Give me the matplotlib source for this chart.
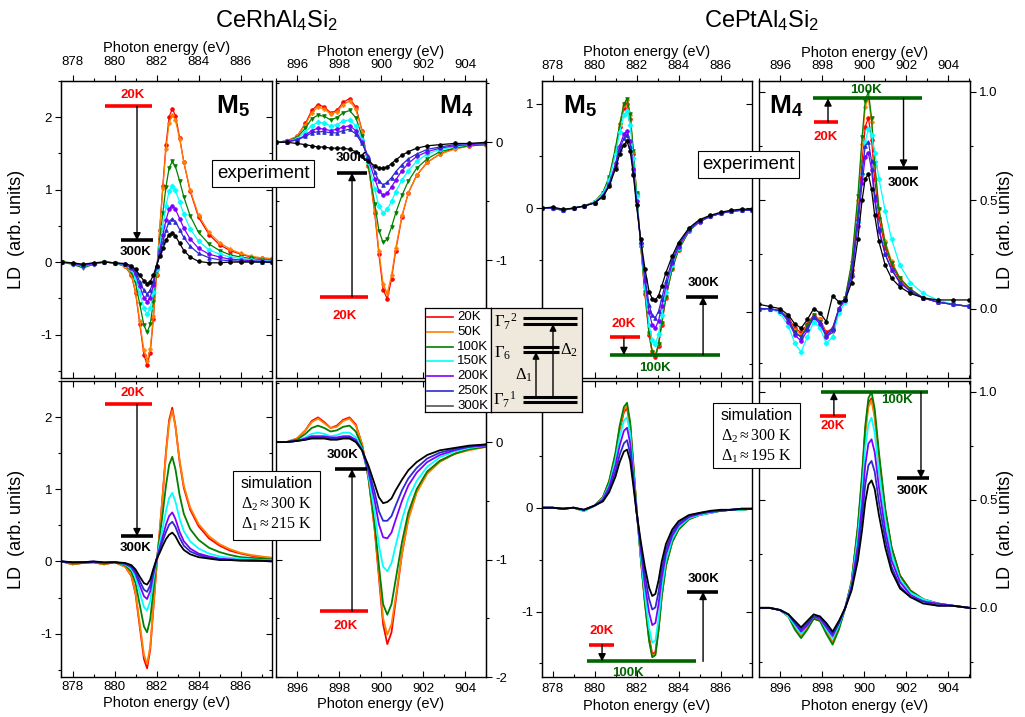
import matplotlib
matplotlib.use('Agg')
import matplotlib.pyplot as plt
from matplotlib.ticker import MultipleLocator, FormatStrFormatter
from matplotlib.patches import Rectangle

plt.rcParams['font.family'] = ['Liberation Sans', 'DejaVu Sans']
plt.rcParams['mathtext.fontset'] = 'custom'
plt.rcParams['mathtext.rm'] = 'Liberation Serif'
plt.rcParams['mathtext.it'] = 'Liberation Serif:italic'
plt.rcParams['mathtext.bf'] = 'Liberation Sans:bold'
plt.rcParams['mathtext.sf'] = 'Liberation Sans'
plt.rcParams['axes.unicode_minus'] = False

# ---------------- data ----------------
TEMPS = ['20K', '50K', '100K', '150K', '200K', '250K', '300K']
COLORS = ['#FF0000', '#FF8000', '#008000', '#00FFFF', '#8000FF', '#2B2BD0', '#000000']
MARKERS = ['o', 'P', 'v', 'D', 'o', '^', 'o']

# CeRhAl4Si2 M5 energy grid
x_rh_m5 = [877.5, 878.0, 878.5, 879.0, 879.5, 880.0, 880.5, 880.8, 881.0, 881.2,
           881.4, 881.55, 881.7, 881.85, 882.0, 882.15, 882.3, 882.45, 882.6, 882.75,
           882.9, 883.1, 883.3, 883.6, 884.0, 884.5, 885.0, 885.5, 886.0, 886.5,
           887.0, 887.5]
rh_m5_exp = [
    [0.00, -0.02, -0.06, -0.02, 0.00, -0.01, -0.06, -0.18, -0.42, -0.85, -1.28, -1.42, -1.25, -0.78, -0.18, 0.45, 1.05, 1.62, 2.00, 2.12, 2.02, 1.72, 1.38, 0.98, 0.62, 0.38, 0.24, 0.16, 0.11, 0.07, 0.05, 0.04],
    [0.00, -0.03, -0.07, -0.03, 0.00, -0.01, -0.06, -0.17, -0.40, -0.82, -1.22, -1.36, -1.20, -0.75, -0.16, 0.44, 1.02, 1.56, 1.92, 2.03, 1.96, 1.70, 1.38, 1.00, 0.65, 0.41, 0.27, 0.18, 0.12, 0.08, 0.06, 0.05],
    [0.00, -0.03, -0.08, -0.03, 0.00, -0.01, -0.05, -0.13, -0.29, -0.58, -0.87, -0.97, -0.86, -0.55, -0.12, 0.30, 0.68, 1.04, 1.30, 1.39, 1.32, 1.12, 0.90, 0.64, 0.41, 0.25, 0.16, 0.10, 0.07, 0.05, 0.03, 0.03],
    [0.00, -0.02, -0.06, -0.02, 0.00, -0.01, -0.04, -0.10, -0.22, -0.43, -0.64, -0.72, -0.64, -0.41, -0.09, 0.22, 0.50, 0.78, 0.98, 1.05, 0.99, 0.83, 0.66, 0.46, 0.29, 0.17, 0.11, 0.07, 0.05, 0.03, 0.02, 0.02],
    [0.00, -0.02, -0.05, -0.02, 0.00, -0.01, -0.03, -0.08, -0.17, -0.33, -0.49, -0.55, -0.49, -0.32, -0.07, 0.16, 0.37, 0.58, 0.73, 0.78, 0.73, 0.60, 0.47, 0.32, 0.19, 0.11, 0.07, 0.04, 0.03, 0.02, 0.01, 0.01],
    [0.00, -0.01, -0.04, -0.01, 0.00, -0.01, -0.03, -0.07, -0.14, -0.27, -0.39, -0.44, -0.39, -0.26, -0.06, 0.12, 0.28, 0.44, 0.56, 0.60, 0.56, 0.45, 0.34, 0.22, 0.12, 0.06, 0.03, 0.02, 0.01, 0.01, 0.00, 0.00],
    [0.00, -0.01, -0.03, -0.01, 0.00, -0.01, -0.02, -0.05, -0.10, -0.18, -0.26, -0.30, -0.27, -0.18, -0.05, 0.08, 0.19, 0.30, 0.38, 0.40, 0.36, 0.26, 0.16, 0.07, 0.01, -0.01, -0.01, 0.00, 0.00, 0.00, 0.00, 0.00],
]
rh_m5_sim = [
    [0.00, -0.04, -0.02, -0.01, -0.04, -0.01, -0.07, -0.20, -0.45, -0.90, -1.35, -1.48, -1.22, -0.65, -0.08, 0.42, 0.95, 1.52, 1.96, 2.13, 1.88, 1.38, 1.02, 0.72, 0.49, 0.32, 0.22, 0.15, 0.11, 0.08, 0.06, 0.05],
    [0.00, -0.04, -0.02, -0.01, -0.04, -0.01, -0.07, -0.19, -0.43, -0.86, -1.29, -1.42, -1.18, -0.63, -0.07, 0.41, 0.93, 1.49, 1.92, 2.09, 1.87, 1.40, 1.05, 0.75, 0.52, 0.35, 0.24, 0.17, 0.12, 0.09, 0.07, 0.05],
    [0.00, -0.03, -0.02, -0.01, -0.03, -0.01, -0.05, -0.14, -0.30, -0.60, -0.90, -0.98, -0.80, -0.40, 0.00, 0.34, 0.68, 1.05, 1.34, 1.45, 1.28, 0.92, 0.66, 0.45, 0.30, 0.19, 0.13, 0.09, 0.06, 0.05, 0.04, 0.03],
    [0.00, -0.02, -0.01, -0.01, -0.02, -0.01, -0.04, -0.10, -0.22, -0.43, -0.63, -0.68, -0.55, -0.26, 0.02, 0.25, 0.47, 0.70, 0.88, 0.95, 0.83, 0.59, 0.42, 0.28, 0.18, 0.11, 0.07, 0.05, 0.04, 0.03, 0.02, 0.02],
    [0.00, -0.02, -0.01, -0.01, -0.02, -0.01, -0.03, -0.08, -0.17, -0.33, -0.48, -0.52, -0.41, -0.18, 0.03, 0.19, 0.35, 0.51, 0.63, 0.68, 0.59, 0.41, 0.28, 0.18, 0.11, 0.07, 0.04, 0.03, 0.02, 0.02, 0.01, 0.01],
    [0.00, -0.01, -0.01, 0.00, -0.02, -0.01, -0.03, -0.07, -0.14, -0.27, -0.39, -0.42, -0.33, -0.14, 0.03, 0.16, 0.29, 0.41, 0.51, 0.55, 0.48, 0.33, 0.22, 0.14, 0.09, 0.05, 0.03, 0.02, 0.02, 0.01, 0.01, 0.01],
    [0.00, -0.01, -0.01, 0.00, -0.01, -0.01, -0.02, -0.05, -0.11, -0.21, -0.30, -0.32, -0.25, -0.10, 0.03, 0.12, 0.22, 0.31, 0.37, 0.40, 0.35, 0.24, 0.16, 0.10, 0.06, 0.04, 0.02, 0.02, 0.01, 0.01, 0.01, 0.00],
]

# CeRhAl4Si2 M4 energy grid
x_rh_m4 = [895.0, 895.5, 896.0, 896.4, 896.7, 897.0, 897.3, 897.6, 897.9, 898.2,
           898.5, 898.8, 899.1, 899.4, 899.7, 899.9, 900.1, 900.3, 900.5, 900.7,
           901.0, 901.3, 901.7, 902.2, 902.8, 903.5, 904.2, 905.0]
rh_m4_exp = [
    [0.00, 0.01, 0.05, 0.16, 0.27, 0.32, 0.30, 0.25, 0.27, 0.34, 0.37, 0.30, 0.10, -0.20, -0.60, -0.95, -1.25, -1.33, -1.16, -0.92, -0.63, -0.43, -0.28, -0.17, -0.10, -0.05, -0.03, -0.02],
    [0.00, 0.01, 0.05, 0.15, 0.25, 0.30, 0.28, 0.24, 0.26, 0.32, 0.35, 0.28, 0.09, -0.20, -0.58, -0.92, -1.20, -1.28, -1.13, -0.90, -0.62, -0.43, -0.28, -0.17, -0.10, -0.06, -0.03, -0.02],
    [0.00, 0.01, 0.04, 0.12, 0.20, 0.23, 0.22, 0.19, 0.21, 0.25, 0.27, 0.21, 0.05, -0.20, -0.52, -0.75, -0.85, -0.82, -0.72, -0.60, -0.45, -0.33, -0.22, -0.14, -0.08, -0.05, -0.03, -0.02],
    [0.00, 0.01, 0.03, 0.09, 0.14, 0.17, 0.16, 0.14, 0.15, 0.18, 0.19, 0.14, 0.02, -0.17, -0.40, -0.54, -0.60, -0.57, -0.50, -0.42, -0.32, -0.24, -0.16, -0.10, -0.06, -0.04, -0.02, -0.01],
    [0.00, 0.01, 0.02, 0.06, 0.10, 0.12, 0.11, 0.10, 0.11, 0.13, 0.14, 0.10, 0.00, -0.14, -0.31, -0.41, -0.45, -0.43, -0.38, -0.32, -0.24, -0.18, -0.12, -0.08, -0.05, -0.03, -0.02, -0.01],
    [0.00, 0.00, 0.02, 0.05, 0.08, 0.09, 0.09, 0.08, 0.08, 0.10, 0.11, 0.07, -0.01, -0.12, -0.25, -0.33, -0.36, -0.34, -0.30, -0.25, -0.19, -0.14, -0.10, -0.06, -0.04, -0.02, -0.01, -0.01],
    [0.00, 0.00, -0.01, -0.02, -0.03, -0.04, -0.04, -0.05, -0.05, -0.05, -0.06, -0.08, -0.12, -0.16, -0.20, -0.22, -0.22, -0.21, -0.18, -0.15, -0.11, -0.08, -0.05, -0.03, -0.02, -0.01, -0.01, 0.00],
]
rh_m4_sim = [
    [0.00, 0.00, 0.03, 0.10, 0.18, 0.21, 0.17, 0.12, 0.14, 0.19, 0.21, 0.15, -0.02, -0.30, -0.75, -1.15, -1.55, -1.72, -1.62, -1.35, -0.95, -0.65, -0.42, -0.26, -0.16, -0.10, -0.06, -0.04],
    [0.00, 0.00, 0.03, 0.10, 0.17, 0.20, 0.16, 0.12, 0.13, 0.18, 0.20, 0.14, -0.02, -0.30, -0.74, -1.12, -1.50, -1.64, -1.55, -1.32, -0.95, -0.66, -0.43, -0.27, -0.17, -0.10, -0.07, -0.04],
    [0.00, 0.00, 0.02, 0.07, 0.12, 0.14, 0.12, 0.09, 0.10, 0.13, 0.14, 0.09, -0.04, -0.30, -0.70, -1.05, -1.38, -1.47, -1.38, -1.17, -0.85, -0.60, -0.40, -0.25, -0.16, -0.10, -0.06, -0.04],
    [0.00, 0.00, 0.01, 0.04, 0.07, 0.08, 0.07, 0.05, 0.06, 0.08, 0.08, 0.04, -0.06, -0.28, -0.60, -0.88, -1.06, -1.10, -1.03, -0.88, -0.66, -0.48, -0.33, -0.21, -0.13, -0.08, -0.05, -0.03],
    [0.00, 0.00, 0.01, 0.03, 0.05, 0.05, 0.05, 0.04, 0.04, 0.05, 0.05, 0.02, -0.07, -0.25, -0.50, -0.70, -0.81, -0.82, -0.77, -0.66, -0.50, -0.37, -0.26, -0.17, -0.11, -0.07, -0.04, -0.03],
    [0.00, 0.00, 0.01, 0.02, 0.04, 0.04, 0.04, 0.03, 0.03, 0.04, 0.04, 0.01, -0.07, -0.23, -0.43, -0.59, -0.67, -0.67, -0.63, -0.54, -0.41, -0.31, -0.22, -0.14, -0.09, -0.06, -0.04, -0.02],
    [0.00, 0.00, 0.01, 0.02, 0.03, 0.03, 0.03, 0.02, 0.02, 0.03, 0.03, 0.00, -0.07, -0.20, -0.36, -0.47, -0.52, -0.51, -0.48, -0.41, -0.32, -0.24, -0.17, -0.11, -0.07, -0.05, -0.03, -0.02],
]

# CePtAl4Si2 M5 energy grid
x_pt_m5 = [877.5, 878.0, 878.5, 879.0, 879.5, 880.0, 880.4, 880.7, 881.0, 881.2,
           881.4, 881.55, 881.7, 881.85, 882.0, 882.2, 882.4, 882.6, 882.75, 882.9,
           883.05, 883.2, 883.4, 883.7, 884.0, 884.5, 885.0, 885.5, 886.0, 886.5,
           887.0, 887.5]
pt_m5_exp = [
    [0.00, 0.00, -0.02, 0.00, 0.02, 0.06, 0.14, 0.28, 0.55, 0.78, 0.96, 1.00, 0.86, 0.52, 0.14, -0.36, -0.82, -1.22, -1.39, -1.43, -1.32, -1.12, -0.86, -0.58, -0.40, -0.22, -0.13, -0.08, -0.05, -0.03, -0.02, -0.02],
    [0.00, 0.00, -0.02, 0.00, 0.02, 0.06, 0.15, 0.30, 0.57, 0.81, 0.99, 1.04, 0.89, 0.54, 0.15, -0.35, -0.80, -1.20, -1.37, -1.41, -1.30, -1.10, -0.85, -0.58, -0.40, -0.22, -0.13, -0.08, -0.05, -0.03, -0.02, -0.02],
    [0.00, 0.00, -0.02, 0.00, 0.02, 0.06, 0.15, 0.30, 0.58, 0.80, 1.00, 1.05, 0.90, 0.55, 0.15, -0.35, -0.80, -1.20, -1.38, -1.42, -1.30, -1.10, -0.85, -0.58, -0.40, -0.22, -0.13, -0.08, -0.05, -0.03, -0.02, -0.02],
    [0.00, 0.00, -0.02, 0.00, 0.02, 0.06, 0.14, 0.27, 0.52, 0.73, 0.89, 0.93, 0.80, 0.48, 0.12, -0.34, -0.76, -1.12, -1.27, -1.30, -1.21, -1.03, -0.80, -0.55, -0.38, -0.21, -0.13, -0.08, -0.05, -0.03, -0.02, -0.02],
    [0.00, 0.00, -0.02, 0.00, 0.02, 0.05, 0.12, 0.23, 0.43, 0.60, 0.71, 0.74, 0.64, 0.38, 0.07, -0.33, -0.70, -1.00, -1.12, -1.15, -1.08, -0.94, -0.75, -0.53, -0.37, -0.21, -0.13, -0.08, -0.05, -0.03, -0.02, -0.02],
    [0.00, 0.00, -0.02, 0.00, 0.02, 0.05, 0.11, 0.22, 0.41, 0.57, 0.67, 0.70, 0.60, 0.35, 0.05, -0.32, -0.66, -0.93, -1.03, -1.05, -0.99, -0.87, -0.70, -0.50, -0.35, -0.20, -0.12, -0.08, -0.05, -0.03, -0.02, -0.02],
    [0.00, 0.01, -0.01, 0.00, 0.02, 0.05, 0.11, 0.21, 0.38, 0.52, 0.61, 0.64, 0.55, 0.32, 0.03, -0.30, -0.58, -0.80, -0.87, -0.88, -0.84, -0.75, -0.62, -0.46, -0.33, -0.19, -0.11, -0.07, -0.04, -0.02, -0.01, -0.01],
]
pt_m5_sim = [
    [0.00, 0.00, -0.01, 0.00, -0.03, 0.02, 0.10, 0.25, 0.50, 0.75, 0.92, 0.96, 0.78, 0.40, 0.00, -0.47, -0.90, -1.25, -1.41, -1.39, -1.16, -0.85, -0.55, -0.33, -0.21, -0.11, -0.07, -0.05, -0.03, -0.02, -0.02, -0.01],
    [0.00, 0.00, -0.01, 0.00, -0.03, 0.02, 0.10, 0.25, 0.51, 0.77, 0.94, 0.98, 0.80, 0.41, 0.00, -0.47, -0.91, -1.27, -1.43, -1.41, -1.17, -0.85, -0.56, -0.33, -0.21, -0.11, -0.07, -0.05, -0.03, -0.02, -0.02, -0.01],
    [0.00, 0.00, -0.01, 0.00, -0.03, 0.02, 0.10, 0.26, 0.53, 0.79, 0.97, 1.01, 0.82, 0.42, 0.00, -0.48, -0.92, -1.28, -1.44, -1.42, -1.18, -0.86, -0.56, -0.33, -0.21, -0.11, -0.07, -0.05, -0.03, -0.02, -0.02, -0.01],
    [0.00, 0.00, -0.01, 0.00, -0.03, 0.02, 0.09, 0.22, 0.46, 0.68, 0.84, 0.87, 0.71, 0.35, -0.02, -0.45, -0.84, -1.16, -1.30, -1.28, -1.07, -0.78, -0.51, -0.30, -0.19, -0.10, -0.07, -0.05, -0.03, -0.02, -0.02, -0.01],
    [0.00, 0.00, -0.01, 0.00, -0.02, 0.02, 0.08, 0.20, 0.41, 0.60, 0.74, 0.77, 0.62, 0.30, -0.03, -0.40, -0.74, -1.01, -1.13, -1.11, -0.93, -0.68, -0.45, -0.27, -0.17, -0.09, -0.06, -0.04, -0.03, -0.02, -0.01, -0.01],
    [0.00, 0.00, -0.01, 0.00, -0.02, 0.02, 0.07, 0.17, 0.35, 0.51, 0.62, 0.65, 0.52, 0.25, -0.04, -0.36, -0.65, -0.88, -0.98, -0.96, -0.81, -0.60, -0.40, -0.24, -0.15, -0.08, -0.05, -0.04, -0.03, -0.02, -0.01, -0.01],
    [0.00, 0.00, -0.01, 0.00, -0.02, 0.02, 0.06, 0.15, 0.30, 0.44, 0.54, 0.56, 0.45, 0.21, -0.04, -0.32, -0.57, -0.77, -0.85, -0.83, -0.70, -0.52, -0.35, -0.21, -0.13, -0.07, -0.05, -0.03, -0.02, -0.02, -0.01, -0.01],
]

# CePtAl4Si2 M4 energy grid
x_pt_m4 = [895.0, 895.5, 896.0, 896.4, 896.7, 897.0, 897.3, 897.6, 897.9, 898.2,
           898.5, 898.8, 899.1, 899.4, 899.7, 899.9, 900.05, 900.2, 900.35, 900.5,
           900.7, 901.0, 901.3, 901.7, 902.2, 902.8, 903.5, 904.2, 905.0]
pt_m4_exp = [
    [0.00, 0.00, -0.01, -0.04, -0.09, -0.11, -0.07, -0.03, -0.05, -0.11, -0.09, 0.00, 0.05, 0.18, 0.45, 0.68, 0.84, 0.88, 0.78, 0.60, 0.42, 0.28, 0.20, 0.13, 0.08, 0.05, 0.03, 0.02, 0.01],
    [0.00, 0.00, -0.01, -0.05, -0.10, -0.12, -0.08, -0.03, -0.05, -0.12, -0.10, 0.00, 0.05, 0.20, 0.50, 0.76, 0.93, 0.97, 0.86, 0.66, 0.46, 0.31, 0.22, 0.14, 0.09, 0.05, 0.03, 0.02, 0.01],
    [0.00, 0.00, -0.01, -0.05, -0.11, -0.13, -0.08, -0.03, -0.06, -0.13, -0.11, 0.00, 0.05, 0.21, 0.52, 0.79, 0.96, 1.00, 0.88, 0.67, 0.46, 0.30, 0.21, 0.14, 0.09, 0.05, 0.03, 0.02, 0.01],
    [0.00, 0.00, -0.02, -0.08, -0.16, -0.20, -0.13, -0.06, -0.09, -0.16, -0.13, -0.02, 0.03, 0.15, 0.40, 0.62, 0.77, 0.83, 0.80, 0.72, 0.60, 0.45, 0.32, 0.20, 0.12, 0.07, 0.04, 0.02, 0.01],
    [0.00, 0.00, -0.01, -0.06, -0.12, -0.15, -0.10, -0.04, -0.07, -0.13, -0.10, 0.00, 0.04, 0.15, 0.38, 0.58, 0.70, 0.72, 0.64, 0.50, 0.36, 0.25, 0.18, 0.12, 0.08, 0.05, 0.03, 0.02, 0.01],
    [0.00, 0.00, -0.01, -0.05, -0.11, -0.13, -0.09, -0.04, -0.06, -0.12, -0.09, 0.00, 0.05, 0.17, 0.42, 0.63, 0.75, 0.77, 0.68, 0.52, 0.37, 0.25, 0.18, 0.12, 0.08, 0.05, 0.03, 0.02, 0.01],
    [0.02, 0.01, 0.00, -0.03, -0.07, -0.09, -0.05, 0.00, -0.02, -0.06, 0.06, 0.03, 0.04, 0.12, 0.32, 0.50, 0.60, 0.62, 0.55, 0.43, 0.31, 0.20, 0.14, 0.10, 0.07, 0.05, 0.04, 0.04, 0.04],
]
pt_m4_sim = [
    [0.00, 0.00, -0.01, -0.04, -0.09, -0.13, -0.09, -0.05, -0.06, -0.11, -0.16, -0.09, 0.00, 0.12, 0.37, 0.60, 0.82, 0.95, 0.97, 0.89, 0.70, 0.45, 0.28, 0.15, 0.08, 0.04, 0.02, 0.01, 0.00],
    [0.00, 0.00, -0.01, -0.04, -0.09, -0.13, -0.09, -0.05, -0.06, -0.11, -0.16, -0.09, 0.00, 0.12, 0.36, 0.59, 0.81, 0.93, 0.96, 0.88, 0.69, 0.44, 0.27, 0.15, 0.08, 0.04, 0.02, 0.01, 0.00],
    [0.00, 0.00, -0.01, -0.04, -0.10, -0.14, -0.10, -0.05, -0.06, -0.12, -0.17, -0.10, 0.00, 0.12, 0.38, 0.62, 0.84, 0.97, 1.00, 0.92, 0.72, 0.46, 0.28, 0.15, 0.08, 0.04, 0.02, 0.01, 0.00],
    [0.00, 0.00, -0.01, -0.04, -0.08, -0.12, -0.08, -0.04, -0.05, -0.10, -0.14, -0.08, 0.00, 0.11, 0.33, 0.54, 0.74, 0.85, 0.88, 0.81, 0.63, 0.41, 0.25, 0.13, 0.07, 0.04, 0.02, 0.01, 0.00],
    [0.00, 0.00, -0.01, -0.03, -0.07, -0.11, -0.08, -0.04, -0.05, -0.09, -0.13, -0.07, 0.00, 0.10, 0.29, 0.48, 0.66, 0.76, 0.78, 0.72, 0.56, 0.36, 0.22, 0.12, 0.06, 0.03, 0.02, 0.01, 0.00],
    [0.00, 0.00, -0.01, -0.03, -0.07, -0.10, -0.07, -0.04, -0.04, -0.08, -0.12, -0.07, 0.00, 0.09, 0.26, 0.42, 0.57, 0.66, 0.68, 0.63, 0.49, 0.32, 0.19, 0.10, 0.05, 0.03, 0.01, 0.01, 0.00],
    [0.00, 0.00, -0.01, -0.03, -0.06, -0.09, -0.06, -0.03, -0.04, -0.07, -0.11, -0.06, 0.00, 0.08, 0.22, 0.36, 0.49, 0.57, 0.59, 0.55, 0.43, 0.28, 0.17, 0.09, 0.05, 0.02, 0.01, 0.01, 0.00],
]

# ---------------- figure ----------------
W, H = 1025, 717
fig = plt.figure(figsize=(W / 100, H / 100), dpi=100)


def fx(x):
    return x / W


def fy(y):
    return 1 - y / H


def make_panel(box, xlim, ylim, ymaj, ymin, yside, xside, yfmt, xpad=3, xlpad=1):
    x0, y0, x1, y1 = box
    ax = fig.add_axes([fx(x0), fy(y1), (x1 - x0) / W, (y1 - y0) / H])
    ax.set_xlim(*xlim)
    ax.set_ylim(*ylim)
    for sp in ax.spines.values():
        sp.set_linewidth(1.0)
    ax.xaxis.set_major_locator(MultipleLocator(2))
    ax.xaxis.set_minor_locator(MultipleLocator(1))
    ax.yaxis.set_major_locator(MultipleLocator(ymaj))
    ax.yaxis.set_minor_locator(MultipleLocator(ymin))
    ax.tick_params(which='both', direction='in', top=True, bottom=True, left=True, right=True,
                   labelbottom=False, labeltop=False, labelleft=False, labelright=False, width=0.8)
    ax.tick_params(which='major', length=4.5)
    ax.tick_params(which='minor', length=2.5)
    ax.xaxis.offsetText.set_visible(False)
    ax.yaxis.offsetText.set_visible(False)
    if xside == 'top':
        ax.tick_params(which='both', top=False)
        sx = ax.secondary_xaxis('top')
        sx.xaxis.set_major_locator(MultipleLocator(2))
        sx.xaxis.set_minor_locator(MultipleLocator(1))
        sx.tick_params(which='both', direction='out', labelsize=9.5, pad=xpad, width=0.8)
        sx.tick_params(which='major', length=4.5)
        sx.tick_params(which='minor', length=2.5)
        sx.set_xlabel('Photon energy (eV)', fontsize=10.5, labelpad=xlpad)
        sx.xaxis.offsetText.set_visible(False)
    else:
        ax.tick_params(labelbottom=True, labelsize=9.5, pad=xpad)
        ax.set_xlabel('Photon energy (eV)', fontsize=10.5, labelpad=xlpad)
    if yside == 'left':
        ax.tick_params(which='both', left=False)
    else:
        ax.tick_params(which='both', right=False)
    sy = ax.secondary_yaxis(yside)
    sy.yaxis.set_major_locator(MultipleLocator(ymaj))
    sy.yaxis.set_minor_locator(MultipleLocator(ymin))
    sy.yaxis.set_major_formatter(FormatStrFormatter(yfmt))
    sy.tick_params(which='both', direction='out', labelsize=9.5, pad=2, width=0.8)
    sy.tick_params(which='major', length=4.5)
    sy.tick_params(which='minor', length=2.5)
    sy.yaxis.offsetText.set_visible(False)
    return ax


def plot_exp(ax, x, rows):
    for i, y in enumerate(rows):
        ax.plot(x, y, color=COLORS[i], lw=0.9, marker=MARKERS[i], ms=2.6, mew=0.6,
                mfc=COLORS[i], mec=COLORS[i], zorder=2 + 0.1 * i)


def plot_sim(ax, x, rows):
    for i, y in enumerate(rows):
        ax.plot(x, y, color=COLORS[i], lw=1.3, zorder=2 + 0.1 * i)


def level(ax, x0, x1, y, color):
    ax.plot([x0, x1], [y, y], color=color, lw=2.6, solid_capstyle='butt', zorder=6)


def arrow(ax, x, ya, yb):
    ax.annotate('', xy=(x, yb), xytext=(x, ya),
                arrowprops=dict(arrowstyle='-|>', color='black', lw=1.0,
                                mutation_scale=11, shrinkA=0, shrinkB=0), zorder=6)


def label(ax, x, y, s, color):
    ax.text(x, y, s, color=color, fontsize=9.5, fontweight='bold', ha='center', va='center', zorder=7)


M5_XL = (877.45, 887.5)
M4_XL = (895.0, 905.0)

# CeRh panels
axA = make_panel((61, 81, 272, 378), M5_XL, (-1.6, 2.5), 1, 0.5, 'left', 'top', '%d', xpad=4.5, xlpad=3.5)
axB = make_panel((276, 81, 486, 378), M4_XL, (-2.0, 0.52), 1, 0.5, 'right', 'top', '%d', xpad=2.5, xlpad=2.5)
axC = make_panel((61, 381, 272, 677), M5_XL, (-1.6, 2.5), 1, 0.5, 'left', 'bottom', '%d', xpad=3, xlpad=2)
axD = make_panel((276, 381, 486, 677), M4_XL, (-2.0, 0.52), 1, 0.5, 'right', 'bottom', '%d', xpad=4, xlpad=2)
# CePt panels
axE = make_panel((542, 81, 752, 378), (877.5, 887.5), (-1.63, 1.22), 1, 0.5, 'left', 'top', '%d', xpad=2, xlpad=2.5)
axF = make_panel((759, 81, 970, 378), (895.0, 905.03), (-0.32, 1.05), 0.5, 0.25, 'right', 'top', '%.1f', xpad=2, xlpad=2)
axG = make_panel((542, 381, 752, 677), (877.5, 887.5), (-1.63, 1.22), 1, 0.5, 'left', 'bottom', '%d', xpad=4, xlpad=3)
axH = make_panel((759, 381, 970, 677), (895.0, 905.03), (-0.32, 1.05), 0.5, 0.25, 'right', 'bottom', '%.1f', xpad=4.5, xlpad=3)

plot_exp(axA, x_rh_m5, rh_m5_exp)
plot_exp(axB, x_rh_m4, rh_m4_exp)
plot_sim(axC, x_rh_m5, rh_m5_sim)
plot_sim(axD, x_rh_m4, rh_m4_sim)
plot_exp(axE, x_pt_m5, pt_m5_exp)
plot_exp(axF, x_pt_m4, pt_m4_exp)
plot_sim(axG, x_pt_m5, pt_m5_sim)
plot_sim(axH, x_pt_m4, pt_m4_sim)

# ---- temperature annotations ----
# A
level(axA, 879.55, 881.78, 2.15, 'red'); label(axA, 880.88, 2.31, '20K', 'red')
level(axA, 880.3, 881.83, 0.30, 'black'); label(axA, 881.02, 0.14, '300K', 'black')
arrow(axA, 881.07, 2.15, 0.30)
# C
level(axC, 879.55, 881.78, 2.18, 'red'); label(axC, 880.88, 2.33, '20K', 'red')
level(axC, 880.3, 881.83, 0.35, 'black'); label(axC, 881.02, 0.18, '300K', 'black')
arrow(axC, 881.07, 2.18, 0.35)
# B
level(axB, 897.9, 899.33, -0.26, 'black'); label(axB, 898.62, -0.13, '300K', 'black')
level(axB, 897.1, 899.38, -1.31, 'red'); label(axB, 898.29, -1.47, '20K', 'red')
arrow(axB, 898.62, -1.31, -0.26)
# D
level(axD, 897.8, 899.33, -0.23, 'black'); label(axD, 898.19, -0.11, '300K', 'black')
level(axD, 897.1, 899.38, -1.44, 'red'); label(axD, 898.33, -1.57, '20K', 'red')
arrow(axD, 898.62, -1.44, -0.23)
# E
GREEN = '#006400'
level(axE, 880.74, 885.98, -1.41, GREEN); label(axE, 882.88, -1.53, '100K', GREEN)
level(axE, 880.74, 882.17, -1.24, 'red'); label(axE, 881.4, -1.11, '20K', 'red')
arrow(axE, 881.4, -1.24, -1.41)
level(axE, 884.36, 885.88, -0.85, 'black'); label(axE, 885.17, -0.72, '300K', 'black')
arrow(axE, 885.17, -1.41, -0.85)
# G
level(axG, 879.64, 884.83, -1.48, GREEN); label(axG, 881.6, -1.59, '100K', GREEN)
level(axG, 879.74, 880.93, -1.32, 'red'); label(axG, 880.36, -1.19, '20K', 'red')
arrow(axG, 880.36, -1.32, -1.48)
level(axG, 884.4, 885.88, -0.81, 'black'); label(axG, 885.17, -0.69, '300K', 'black')
arrow(axG, 885.17, -1.48, -0.81)
# F
level(axF, 897.56, 902.73, 0.97, GREEN); label(axF, 900.07, 1.01, '100K', GREEN)
level(axF, 897.61, 898.74, 0.86, 'red'); label(axF, 898.18, 0.79, '20K', 'red')
arrow(axF, 898.28, 0.86, 0.97)
level(axF, 901.11, 902.54, 0.65, 'black'); label(axF, 901.87, 0.58, '300K', 'black')
arrow(axF, 901.87, 0.97, 0.65)
# H
level(axH, 897.94, 903.01, 1.00, GREEN); label(axH, 901.54, 0.96, '100K', GREEN)
level(axH, 897.89, 899.12, 0.89, 'red'); label(axH, 898.51, 0.84, '20K', 'red')
arrow(axH, 898.56, 0.89, 1.00)
level(axH, 901.54, 903.1, 0.60, 'black'); label(axH, 902.3, 0.54, '300K', 'black')
arrow(axH, 902.7, 1.00, 0.60)

# ---- edge labels ----
axA.text(0.813, 0.915, r'$\mathbf{M}_{\mathbf{5}}$', transform=axA.transAxes, fontsize=19, ha='center', va='center')
axB.text(0.857, 0.915, r'$\mathbf{M}_{\mathbf{4}}$', transform=axB.transAxes, fontsize=19, ha='center', va='center')
axE.text(0.183, 0.915, r'$\mathbf{M}_{\mathbf{5}}$', transform=axE.transAxes, fontsize=19, ha='center', va='center')
axF.text(0.128, 0.915, r'$\mathbf{M}_{\mathbf{4}}$', transform=axF.transAxes, fontsize=19, ha='center', va='center')

# titles
fig.text(fx(276), fy(21), r'CeRhAl$_\mathsf{4}$Si$_\mathsf{2}$', fontsize=17, ha='center', va='center')
fig.text(fx(762), fy(21), r'CePtAl$_\mathsf{4}$Si$_\mathsf{2}$', fontsize=17, ha='center', va='center')

# y labels
for yc in (229, 529):
    fig.text(fx(17), fy(yc), 'LD  (arb. units)', rotation=90, fontsize=13, ha='center', va='center')
    fig.text(fx(1006), fy(yc), 'LD  (arb. units)', rotation=90, fontsize=13, ha='center', va='center')

# experiment boxes
for (cx, cy) in ((263, 173.5), (748.5, 164.5)):
    fig.text(fx(cx), fy(cy), 'experiment', fontsize=13.5, ha='center', va='center', zorder=10,
             bbox=dict(boxstyle='square,pad=0.25', fc='white', ec='black', lw=0.8))

# simulation boxes
for (bx0, by0, bx1, by1, d1) in ((233, 471, 320, 540, '215'), (713, 403, 800, 468, '195')):
    fig.patches.append(Rectangle((fx(bx0), fy(by1)), (bx1 - bx0) / W, (by1 - by0) / H,
                                 transform=fig.transFigure, fc='white', ec='black', lw=0.8, zorder=9))
    cx = (bx0 + bx1) / 2
    fig.text(fx(cx), fy(by0 + 13), 'simulation', fontsize=11.5, ha='center', va='center', zorder=10)
    fig.text(fx(cx), fy(by0 + 33), r'$\Delta_2 \approx 300\ \mathrm{K}$', fontsize=11.5, ha='center', va='center', zorder=10)
    fig.text(fx(cx), fy(by0 + 53), r'$\Delta_1 \approx ' + d1 + r'\ \mathrm{K}$', fontsize=11.5, ha='center', va='center', zorder=10)

# legend box
lx0, ly0, lx1, ly1 = 425, 308, 491, 412
leg = fig.add_axes([fx(lx0), fy(ly1), (lx1 - lx0) / W, (ly1 - ly0) / H])
leg.set_zorder(20)
leg.set_xlim(0, lx1 - lx0)
leg.set_ylim(ly1 - ly0, 0)
leg.set_xticks([]); leg.set_yticks([])
leg.set_facecolor('white')
for sp in leg.spines.values():
    sp.set_linewidth(0.9)
for i, t in enumerate(TEMPS):
    yy = 9 + i * 14.8
    leg.plot([2, 28], [yy, yy], color=COLORS[i] if i < 6 else '#555555', lw=1.2)
    leg.text(32, yy, t, fontsize=9.5, ha='left', va='center')

# level scheme
sx0, sy0, sx1, sy1 = 491, 308, 582, 412
sch = fig.add_axes([fx(sx0), fy(sy1), (sx1 - sx0) / W, (sy1 - sy0) / H])
sch.set_zorder(20)
sch.set_xlim(0, sx1 - sx0)
sch.set_ylim(sy1 - sy0, 0)
sch.set_xticks([]); sch.set_yticks([])
sch.set_facecolor('#EEE9DC')
for sp in sch.spines.values():
    sp.set_linewidth(0.9)
for yy in (10, 16, 89, 94):
    sch.plot([32, 86], [yy, yy], color='black', lw=2.2, solid_capstyle='butt')
for yy in (39, 44):
    sch.plot([32, 68], [yy, yy], color='black', lw=2.2, solid_capstyle='butt')
sch.annotate('', xy=(45, 44), xytext=(45, 89),
             arrowprops=dict(arrowstyle='-|>', color='black', lw=1.0, mutation_scale=10, shrinkA=0, shrinkB=0))
sch.annotate('', xy=(62, 16), xytext=(62, 89),
             arrowprops=dict(arrowstyle='-|>', color='black', lw=1.0, mutation_scale=10, shrinkA=0, shrinkB=0))
sch.text(15, 14, r'$\Gamma_7{}^{2}$', fontsize=12, ha='center', va='center')
sch.text(12, 45, r'$\Gamma_6$', fontsize=12, ha='center', va='center')
sch.text(33, 67, r'$\Delta_1$', fontsize=12, ha='center', va='center')
sch.text(14, 92, r'$\Gamma_7{}^{1}$', fontsize=12, ha='center', va='center')
sch.text(78, 42, r'$\Delta_2$', fontsize=12, ha='center', va='center')

fig.savefig('out.png', dpi=100)
